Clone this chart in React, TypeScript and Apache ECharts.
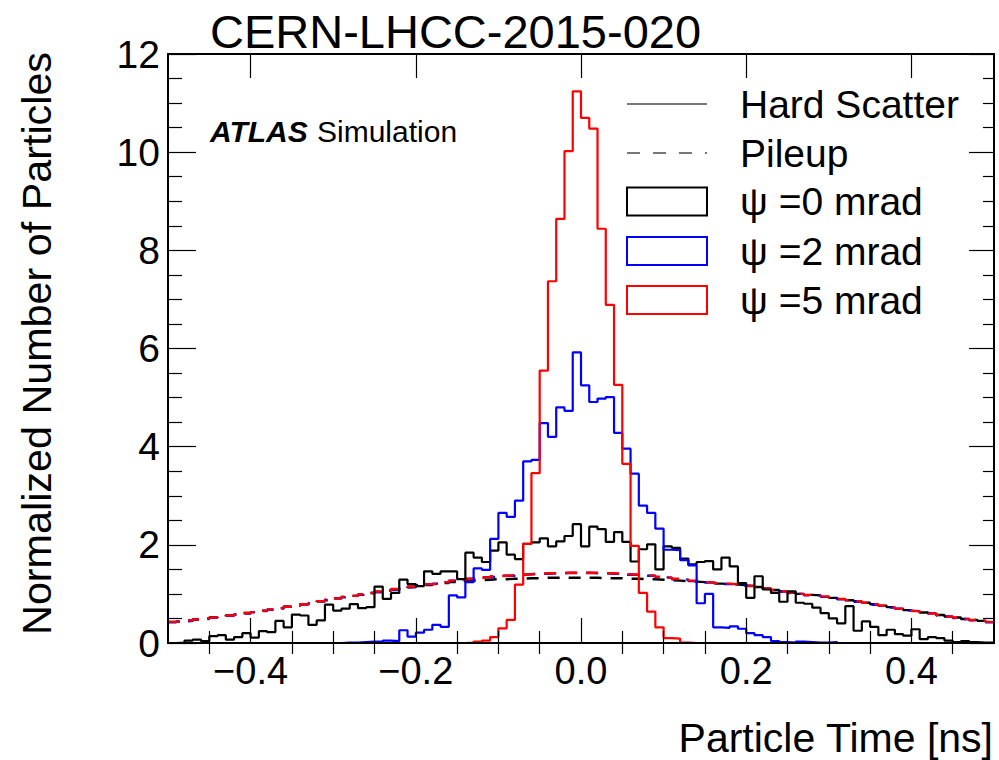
import React, { useEffect, useRef } from "react";
import * as echarts from "echarts";

// Histogram binning: 100 bins of 0.01 ns from -0.5 to 0.5 ns
const X_MIN = -0.5;
const X_MAX = 0.5;
const BIN_WIDTH = 0.01;

// Hard-scatter histograms (solid)
const HS_PSI0 = [
  0.0, 0.01, 0.05, 0.07, 0.04, 0.14, 0.16, 0.07, 0.12, 0.2,
  0.11, 0.24, 0.22, 0.45, 0.32, 0.58, 0.56, 0.37, 0.46, 0.78,
  0.66, 0.7, 0.79, 0.71, 0.73, 1.15, 0.9, 1.02, 1.29, 1.2,
  1.16, 1.46, 1.41, 1.46, 1.46, 1.3, 1.84, 1.74, 1.65, 1.88,
  2.05, 1.8, 1.71, 2.02, 2.05, 2.13, 1.97, 2.07, 2.18, 2.42,
  1.97, 2.37, 2.32, 2.06, 2.26, 2.06, 1.66, 1.91, 2.01, 1.5,
  1.97, 1.94, 1.72, 1.6, 1.65, 1.67, 1.5, 1.74, 1.56, 1.22,
  0.92, 1.36, 1.09, 1.02, 0.84, 1.05, 0.82, 0.8, 0.72, 0.61,
  0.5, 0.4, 0.75, 0.25, 0.44, 0.33, 0.16, 0.27, 0.18, 0.15,
  0.28, 0.08, 0.12, 0.1, 0.05, 0.02, 0.04, 0.02, 0.01, 0.01,
];
const HS_PSI2 = [
  0, 0, 0, 0, 0, 0, 0, 0, 0, 0,
  0, 0, 0, 0, 0, 0, 0, 0, 0, 0,
  0.0, 0.01, 0.01, 0.02, 0.03, 0.03, 0.05, 0.04, 0.26, 0.13,
  0.21, 0.27, 0.37, 0.33, 0.97, 0.93, 1.24, 1.52, 1.49, 2.12,
  2.65, 2.57, 2.9, 3.7, 3.73, 4.48, 4.2, 4.8, 4.73, 5.92,
  5.25, 4.91, 4.98, 5.01, 4.28, 3.96, 3.45, 2.8, 2.65, 2.33,
  1.9, 1.89, 1.69, 1.58, 0.81, 1.0, 0.32, 0.31, 0.34, 0.29,
  0.2, 0.16, 0.12, 0.04, 0.02, 0.01, 0.03, 0.02, 0.01, 0.01,
  0.02, 0, 0, 0, 0, 0, 0, 0, 0, 0,
  0, 0, 0, 0, 0, 0, 0, 0, 0, 0,
];
const HS_PSI5 = [
  0, 0, 0, 0, 0, 0, 0, 0, 0, 0,
  0, 0, 0, 0, 0, 0, 0, 0, 0, 0,
  0, 0, 0, 0, 0, 0, 0, 0, 0, 0,
  0, 0, 0, 0, 0, 0, 0.01, 0.03, 0.05, 0.12,
  0.3, 0.47, 1.19, 2.02, 3.46, 5.55, 7.37, 8.64, 10.02, 11.24,
  10.7, 10.48, 8.44, 6.89, 5.26, 3.65, 1.98, 1.02, 0.64, 0.32,
  0.1, 0.09, 0.01, 0, 0, 0, 0, 0, 0, 0,
  0, 0, 0, 0, 0, 0, 0, 0, 0, 0,
  0, 0, 0, 0, 0, 0, 0, 0, 0, 0,
  0, 0, 0, 0, 0, 0, 0, 0, 0, 0,
];

// Pileup histograms (dashed)
const PU_PSI0 = [
  0.43, 0.44, 0.46, 0.48, 0.5, 0.52, 0.54, 0.56, 0.58, 0.61,
  0.63, 0.66, 0.68, 0.71, 0.74, 0.76, 0.79, 0.82, 0.85, 0.88,
  0.91, 0.94, 0.96, 0.99, 1.02, 1.04, 1.07, 1.09, 1.12, 1.14,
  1.16, 1.18, 1.2, 1.22, 1.24, 1.26, 1.27, 1.28, 1.29, 1.3,
  1.3, 1.31, 1.31, 1.32, 1.32, 1.33, 1.33, 1.33, 1.33, 1.33,
  1.33, 1.33, 1.32, 1.32, 1.32, 1.31, 1.31, 1.3, 1.3, 1.29,
  1.28, 1.27, 1.26, 1.25, 1.24, 1.23, 1.21, 1.2, 1.19, 1.18,
  1.16, 1.14, 1.11, 1.08, 1.05, 1.03, 1.0, 0.98, 0.97, 0.95,
  0.92, 0.9, 0.87, 0.85, 0.82, 0.79, 0.76, 0.73, 0.7, 0.67,
  0.65, 0.62, 0.6, 0.57, 0.54, 0.52, 0.49, 0.47, 0.45, 0.43,
];
const PU_PSI2 = [
  0.42, 0.44, 0.45, 0.48, 0.49, 0.52, 0.53, 0.56, 0.58, 0.6,
  0.63, 0.65, 0.68, 0.7, 0.74, 0.75, 0.79, 0.81, 0.85, 0.87,
  0.91, 0.93, 0.96, 0.98, 1.02, 1.04, 1.07, 1.09, 1.13, 1.14,
  1.18, 1.19, 1.21, 1.23, 1.27, 1.29, 1.31, 1.32, 1.34, 1.35,
  1.37, 1.37, 1.39, 1.4, 1.41, 1.41, 1.42, 1.42, 1.43, 1.42,
  1.43, 1.42, 1.42, 1.41, 1.41, 1.39, 1.39, 1.37, 1.37, 1.34,
  1.33, 1.3, 1.29, 1.26, 1.26, 1.23, 1.22, 1.2, 1.2, 1.17,
  1.16, 1.13, 1.11, 1.07, 1.05, 1.02, 1.0, 0.97, 0.97, 0.94,
  0.92, 0.89, 0.87, 0.84, 0.82, 0.78, 0.76, 0.72, 0.7, 0.66,
  0.65, 0.61, 0.6, 0.56, 0.54, 0.51, 0.49, 0.46, 0.45, 0.42,
];
const PU_PSI5 = [
  0.43, 0.44, 0.46, 0.48, 0.5, 0.52, 0.54, 0.56, 0.58, 0.61,
  0.63, 0.66, 0.68, 0.71, 0.74, 0.76, 0.79, 0.82, 0.85, 0.88,
  0.91, 0.94, 0.96, 0.99, 1.02, 1.05, 1.07, 1.1, 1.13, 1.15,
  1.18, 1.2, 1.21, 1.24, 1.27, 1.3, 1.31, 1.33, 1.34, 1.36,
  1.37, 1.38, 1.39, 1.4, 1.41, 1.42, 1.42, 1.43, 1.43, 1.43,
  1.43, 1.43, 1.42, 1.42, 1.41, 1.4, 1.39, 1.38, 1.37, 1.35,
  1.33, 1.31, 1.29, 1.27, 1.26, 1.24, 1.22, 1.21, 1.2, 1.18,
  1.16, 1.14, 1.11, 1.08, 1.05, 1.03, 1.0, 0.98, 0.97, 0.95,
  0.92, 0.9, 0.87, 0.85, 0.82, 0.79, 0.76, 0.73, 0.7, 0.67,
  0.65, 0.62, 0.6, 0.57, 0.54, 0.52, 0.49, 0.47, 0.45, 0.43,
];

const X_MAJOR_TICKS = [-0.4, -0.2, 0.0, 0.2, 0.4];
const X_MINOR_TICKS = [
  -0.45, -0.35, -0.3, -0.25, -0.15, -0.1, -0.05, 0.05, 0.1, 0.15, 0.25, 0.3, 0.35, 0.45,
];
const Y_MIN = 0;
const Y_MAX = 12;
const Y_INTERVAL = 2;

const TITLE = "CERN-LHCC-2015-020";
const X_TITLE = "Particle Time [ns]";
const Y_TITLE = "Normalized Number of Particles";
const LEGEND_LABELS = ["Hard Scatter", "Pileup", "ψ =0 mrad", "ψ =2 mrad", "ψ =5 mrad"];
const COLORS = ["#000000", "#0000ff", "#ff0000"];

const FONT = "'Liberation Sans', Arial, Helvetica, sans-serif";

function toSteps(values: number[]) {
  const pts: number[][] = values.map((v, i) => [
    Number((X_MIN + i * BIN_WIDTH).toFixed(4)),
    v,
  ]);
  pts.push([Number((X_MIN + values.length * BIN_WIDTH).toFixed(4)), values[values.length - 1]]);
  return pts;
}

function fmtX(v: number) {
  const s = Math.abs(v).toFixed(1);
  return v < -1e-9 ? "\u2212" + s : s;
}

function txt(text: string, x: number, y: number, size: number, extra: any = {}) {
  return {
    type: "text",
    x,
    y,
    z: 100,
    ...extra,
    style: {
      text,
      fill: "#000",
      font: `${extra.fontStyle || "normal"} ${extra.fontWeight || "normal"} ${size}px ${FONT}`,
      fontSize: size,
      fontFamily: FONT,
      fontWeight: extra.fontWeight || "normal",
      fontStyle: extra.fontStyle || "normal",
      align: extra.align || "left",
      textAlign: extra.align || "left",
      verticalAlign: "middle",
      textVerticalAlign: "middle",
    },
  };
}

export default function App() {
  const ref = useRef<HTMLDivElement>(null);

  useEffect(() => {
    if (!ref.current) return;
    const chart = echarts.init(ref.current, undefined, { renderer: "svg" });

    const lineSeries = (name: string, values: number[], color: string, dashed: boolean) => ({
      name,
      type: "line",
      step: "end",
      symbol: "none",
      showSymbol: false,
      silent: true,
      clip: true,
      xAxisIndex: 0,
      yAxisIndex: 0,
      data: toSteps(values),
      lineStyle: {
        color,
        width: dashed ? 2.4 : 2.2,
        type: dashed ? [12, 9] : "solid",
      },
      z: 2,
    });

    const xAxisBase = {
      type: "value",
      min: X_MIN,
      max: X_MAX,
      gridIndex: 0,
      splitLine: { show: false },
      z: 10,
    };
    const yAxisBase = {
      type: "value",
      min: Y_MIN,
      max: Y_MAX,
      interval: Y_INTERVAL,
      splitLine: { show: false },
      z: 10,
    };
    const axisLine = { show: true, onZero: false, lineStyle: { color: "#000", width: 2 } };
    const tickStyle = { color: "#000", width: 1.2 };

    const legendX = 627;
    const legendW = 80;
    const textX = 740;
    const rows = [104, 153, 201.5, 251, 300];

    const option: any = {
      animation: false,
      backgroundColor: "#ffffff",
      grid: { left: 168, top: 54, width: 826, height: 589, containLabel: false },
      xAxis: [
        {
          ...xAxisBase,
          position: "bottom",
          axisLine,
          axisTick: { show: true, inside: true, length: 25, customValues: X_MAJOR_TICKS, lineStyle: tickStyle },
          axisLabel: {
            show: true,
            customValues: X_MAJOR_TICKS,
            formatter: (v: number) => fmtX(v),
            color: "#000",
            fontSize: 38,
            fontFamily: FONT,
            margin: 9,
          },
        },
        {
          ...xAxisBase,
          position: "bottom",
          axisLine: { show: false },
          axisTick: { show: true, inside: true, length: 12, customValues: X_MINOR_TICKS, lineStyle: tickStyle },
          axisLabel: { show: false },
        },
        {
          ...xAxisBase,
          position: "top",
          axisLine,
          axisTick: { show: true, inside: true, length: 24, customValues: X_MAJOR_TICKS, lineStyle: tickStyle },
          axisLabel: { show: false },
        },
        {
          ...xAxisBase,
          position: "top",
          axisLine: { show: false },
          axisTick: { show: true, inside: true, length: 11, customValues: X_MINOR_TICKS, lineStyle: tickStyle },
          axisLabel: { show: false },
        },
      ],
      yAxis: [
        {
          ...yAxisBase,
          position: "left",
          axisLine,
          axisTick: { show: true, inside: true, length: 28, lineStyle: tickStyle },
          minorTick: { show: true, splitNumber: 4, length: 14, lineStyle: tickStyle },
          axisLabel: {
            show: true,
            color: "#000",
            fontSize: 39,
            fontFamily: FONT,
            margin: 8,
          },
        },
        {
          ...yAxisBase,
          position: "right",
          axisLine,
          axisTick: { show: true, inside: true, length: 25, lineStyle: tickStyle },
          minorTick: { show: true, splitNumber: 4, length: 11, lineStyle: tickStyle },
          axisLabel: { show: false },
        },
      ],
      series: [
        lineSeries("Pileup ψ=0", PU_PSI0, COLORS[0], true),
        lineSeries("Pileup ψ=2", PU_PSI2, COLORS[1], true),
        lineSeries("Pileup ψ=5", PU_PSI5, COLORS[2], true),
        lineSeries("Hard Scatter ψ=0", HS_PSI0, COLORS[0], false),
        lineSeries("Hard Scatter ψ=2", HS_PSI2, COLORS[1], false),
        lineSeries("Hard Scatter ψ=5", HS_PSI5, COLORS[2], false),
      ],
      graphic: {
        elements: [
          txt(TITLE, 210, 31, 47),
          txt("ATLAS", 210, 131, 30, { fontWeight: "bold", fontStyle: "italic" }),
          txt("Simulation", 317, 131, 30),
          txt(X_TITLE, 993, 738, 41, { align: "right" }),
          txt(Y_TITLE, 37, 52, 41.3, { align: "right", rotation: Math.PI / 2 }),
          {
            type: "line",
            z: 100,
            shape: { x1: legendX, y1: rows[0], x2: legendX + legendW, y2: rows[0] },
            style: { stroke: "#777777", lineWidth: 2 },
          },
          {
            type: "line",
            z: 100,
            shape: { x1: legendX, y1: rows[1], x2: legendX + legendW, y2: rows[1] },
            style: { stroke: "#777777", lineWidth: 2, lineDash: [13, 13] },
          },
          ...[0, 1, 2].map((i) => ({
            type: "rect",
            z: 100,
            shape: { x: legendX, y: rows[2 + i] - 14, width: legendW, height: 28 },
            style: { fill: "none", stroke: COLORS[i], lineWidth: 2 },
          })),
          ...LEGEND_LABELS.map((t, i) => txt(t, textX, rows[i], 39)),
        ],
      },
    };

    chart.setOption(option);
    return () => {
      chart.dispose();
    };
  }, []);

  return (
    <div
      ref={ref}
      style={{ position: "fixed", left: 0, top: 0, width: 999, height: 760, background: "#fff" }}
    />
  );
}
